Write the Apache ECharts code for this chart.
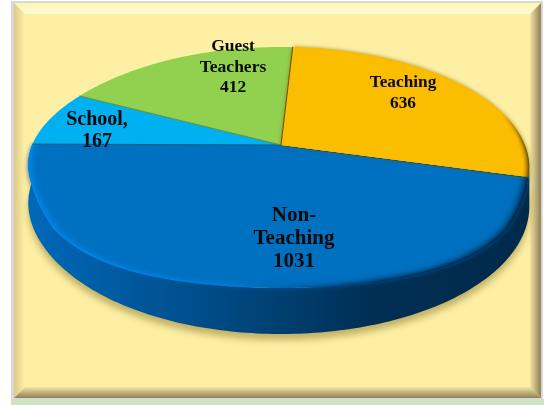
<!DOCTYPE html>
<html>
<head>
<meta charset="utf-8">
<style>
html, body { margin: 0; padding: 0; background: #fff; }
#chart { width: 544px; height: 405px; }
</style>
<script src="https://cdn.jsdelivr.net/npm/echarts@6/dist/echarts.min.js"></script>
</head>
<body>
<div id="chart"></div>
<script>
// pie data, in drawing order (clockwise from firstAngle)
const categories = ["Non-\nTeaching", "School,", "Guest\nTeachers", "Teaching"]
const values = [1031, 167, 412, 636]

// styles
const faceColors = ["#0070c0", "#00b0f0", "#92d050", "#fabd00"]
const seamColors = ["#053f6e", "#0a5c86", "#5e8f36", "#6b4a05"]
const labelAt = [[294, 239], [97, 131], [233, 67], [403, 93]]
const labelSize = [21, 20, 17.5, 17.3]
const labelLine = [23, 22, 20.5, 20.5]

const firstAngle = 15.2
const cx = 281, cy = 145, depth = 46
const rx = 244, ry = 116.3, persp = -0.1867

const chart = echarts.init(document.getElementById("chart"))
const total = values.reduce((a, b) => a + b, 0)

const rad = d => (d * Math.PI) / 180
// disc point with perspective, the hub is not at the centre of the ellipse
// the front of the top face sags a little at the sides, like the rounded bevel of the original
const pt = (deg, r, flat) => {
	const c = Math.cos(rad(deg))
	const s = Math.sin(rad(deg))
	const sag = Math.min(1, Math.max(0, (s - 0.26) / 0.3))
	const u = r * c * (c < 0 ? 1 + 0.02 * Math.pow(c, 8) : 1)
	const v = r * s * (flat ? 1 : 1 + 0.24 * sag * c * c)
	const w = 1 + persp * r * s
	return [cx + (rx * u) / w, cy + (ry * v) / w]
}
const sliceRange = i => {
	let a = firstAngle
	for (let k = 0; k < i; k++) a += (values[k] / total) * 360
	return [a, a + (values[i] / total) * 360]
}
const arc = (a0, a1, r, flat) => {
	const pts = []
	const n = Math.max(2, Math.ceil(Math.abs(a1 - a0)))
	for (let i = 0; i <= n; i++) pts.push(pt(a0 + ((a1 - a0) * i) / n, r, flat))
	return pts
}
const hGrad = stops => new echarts.graphic.LinearGradient(cx - 250, 0, cx + 250, 0, stops, true)

const sideFill = hGrad([
	{ offset: 0, color: "#0068b8" },
	{ offset: 0.15, color: "#005ca4" },
	{ offset: 0.35, color: "#004c88" },
	{ offset: 0.5, color: "#003f70" },
	{ offset: 0.68, color: "#002f54" },
	{ offset: 1, color: "#00294a" }
])
const rimBlue = hGrad([
	{ offset: 0, color: "#0086e6" },
	{ offset: 0.4, color: "#007cd8" },
	{ offset: 0.52, color: "#0062a8" },
	{ offset: 0.7, color: "#00355f" },
	{ offset: 1, color: "#00294a" }
])
const rimYellow = hGrad([
	{ offset: 0, color: "#fabd00" },
	{ offset: 0.94, color: "#fabd00" },
	{ offset: 1, color: "#6e5000" }
])

const renderSide = (params, api) => {
	if (params.dataIndex !== 0) return null
	const [a0, a1] = sliceRange(0)
	// start from the right extreme of the disc so the wall reaches the silhouette
	const deg = Math.min(a0, 10.7)
	const top = arc(deg, a1, 1, true)
	const bottom = top.map((p, i) => {
		const a = deg + ((a1 - deg) * i) / (top.length - 1)
		return [p[0], p[1] + depth * (0.8 + 0.2 * Math.sin(rad(a)))]
	}).reverse()
	return {
		type: "polygon",
		shape: { points: top.concat(bottom) },
		style: {
			fill: sideFill,
			shadowColor: "rgba(120,100,30,0.45)",
			shadowBlur: 7,
			shadowOffsetY: 6
		}
	}
}

const renderFace = (params, api) => {
	const i = params.dataIndex
	const [a0, a1] = sliceRange(i)
	const hub = pt(0, 0)
	const children = []
	const rim = i === 0 ? rimBlue : i === 3 ? rimYellow : null
	children.push({
		type: "polygon",
		shape: { points: [hub].concat(arc(a0, a1, 1)) },
		style: rim
			? { fill: rim, shadowColor: i === 0 ? "rgba(0,90,170,0.8)" : "rgba(110,80,0,0.6)", shadowBlur: 4 }
			: { fill: faceColors[i] }
	})
	// soft bevel along the rim: smaller and smaller slices in the plain colour
	if (rim) {
		const steps = i === 0 ? 9 : 4
		for (let s = 1; s <= steps; s++) {
			children.push({
				type: "polygon",
				shape: { points: [hub].concat(arc(a0, a1, 1 - s * 0.006)) },
				style: { fill: faceColors[i], opacity: s / steps > 0.99 ? 1 : 0.22 + (0.5 * s) / steps }
			})
		}
	}
	children.push({
		type: "polyline",
		shape: { points: [pt(a0, 1), hub] },
		style: { fill: "none", stroke: seamColors[i], lineWidth: i === 0 ? 1.6 : 1 }
	})
	children.push({
		type: "text",
		style: {
			x: labelAt[i][0],
			y: labelAt[i][1],
			text: categories[i] + "\n" + values[i],
			align: "center",
			verticalAlign: "middle",
			fill: "#0a0a0a",
			font: "bold " + labelSize[i] + "px 'Liberation Serif'",
			lineHeight: labelLine[i]
		}
	})
	return { type: "group", children }
}

// bevelled picture frame behind the chart
const L = 14, T = 3, R = 541, B = 398, W = 11
const bevel = (points, x, y, x2, y2, c0, c1) => ({
	type: "polygon",
	shape: { points },
	style: { fill: new echarts.graphic.LinearGradient(x, y, x2, y2, [{ offset: 0, color: c0 }, { offset: 1, color: c1 }], true) }
})
const frame = [
	{ type: "rect", shape: { x: 11, y: 1, width: 532, height: 398 }, style: { fill: "#d8d8d8" } },
	{ type: "rect", shape: { x: 11, y: 399, width: 533, height: 6 }, style: { fill: "#cfe2c6" } },
	{ type: "rect", shape: { x: L, y: T, width: R - L, height: B - T }, style: { fill: "#fdf0a4" } },
	bevel([[L, T], [R, T], [R - W, T + W], [L + W, T + W]], 0, T, 0, T + W, "#fff4b0", "#fffbd8"),
	bevel([[L, T], [L + W, T + W], [L + W, B - W], [L, B]], L, 0, L + W, 0, "#dcc98a", "#fdf0a4"),
	bevel([[R, T], [R, B], [R - W, B - W], [R - W, T + W]], R, 0, R - W, 0, "#8e8058", "#f4e4a0"),
	bevel([[L, B], [R, B], [R - W, B - W], [L + W, B - W]], 0, B, 0, B - W, "#8e8058", "#f4e4a0")
]

chart.setOption({
	animation: false,
	backgroundColor: "#ffffff",
	graphic: { elements: frame.map(e => ({ ...e, silent: true, z: -10 })) },
	series: [
		{ type: "custom", coordinateSystem: "none", z: 2, renderItem: renderSide, data: values, silent: true },
		{ type: "custom", coordinateSystem: "none", z: 3, renderItem: renderFace, data: values, silent: true }
	]
})
</script>
</body>
</html>
